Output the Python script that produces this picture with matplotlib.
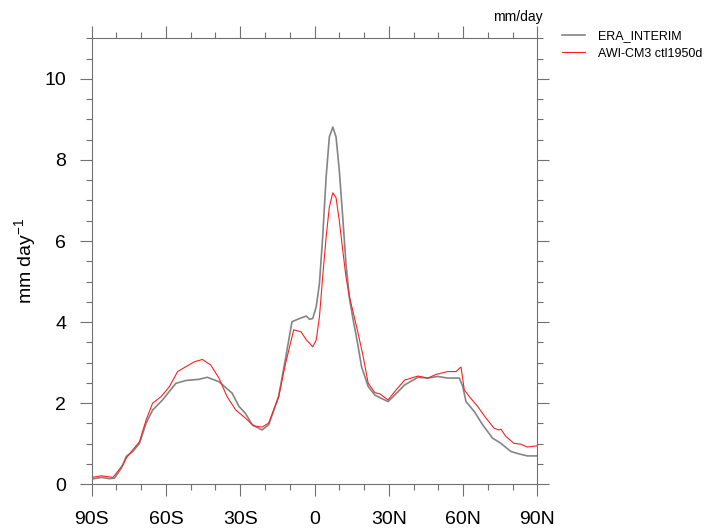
import matplotlib
matplotlib.use("Agg")
import matplotlib.pyplot as plt
from matplotlib.ticker import MultipleLocator

plt.rcParams['font.family'] = ['Liberation Sans', 'DejaVu Sans']

# --- zonal mean precipitation (mm/day) ---
era_lat = [-90, -86, -83, -80.8, -78, -76, -73.4, -70.7, -68, -65.4, -61.4, -56, -52,
           -46.6, -43.3, -38.6, -33.3, -30.5, -27.9, -25.2, -21.2, -18.5, -14.5, -11.8,
           -9.1, -6.4, -3.3, -2.0, -0.7, 0.7, 2.0, 3.3, 4.7, 6.0, 7.4, 8.7, 10.0, 11.4,
           12.7, 14.1, 15.4, 17.4, 19.0, 21.7, 24.4, 27.0, 29.7, 32.4, 36.4, 41.8, 45.8,
           49.8, 53.8, 58.5, 59.9, 61.2, 64.6, 67.9, 71.9, 75.3, 79.3, 82.6, 86.0, 90]
era_val = [0.13, 0.17, 0.14, 0.15, 0.40, 0.69, 0.81, 1.01, 1.51, 1.83, 2.08, 2.49, 2.56,
           2.59, 2.64, 2.53, 2.25, 1.92, 1.75, 1.47, 1.34, 1.47, 2.16, 3.07,
           4.01, 4.08, 4.15, 4.07, 4.09, 4.38, 4.95, 6.10, 7.58, 8.57, 8.81, 8.57, 7.75, 6.60,
           5.45, 4.60, 4.13, 3.48, 2.90, 2.41, 2.20, 2.12, 2.04, 2.20, 2.45, 2.64, 2.62,
           2.66, 2.62, 2.62, 2.41, 2.04, 1.79, 1.47, 1.14, 1.01, 0.81, 0.75, 0.70, 0.70]

awi_lat = [-90, -86, -81.4, -77.4, -76, -73.4, -70.7, -68, -65.4, -62, -58.6, -55.3, -52,
           -48.6, -45.3, -41.9, -38.6, -35.3, -31.9, -27.9, -24.5, -21.2, -18.5, -14.5,
           -11.8, -8.4, -5.4, -3.3, -2.0, -0.7, 0.7, 2.0, 3.3, 4.7, 6.0, 7.4, 8.7, 10.0,
           11.4, 12.7, 14.1, 15.4, 17.4, 19.5, 21.7, 24.4, 26.4, 29.7, 33.0, 36.4, 41.8,
           45.8, 49.1, 53.8, 57.2, 58.5, 59.2, 60.5, 62.6, 65.9, 69.3, 72.6, 74.6, 75.3,
           77.3, 80.6, 83.3, 86.0, 90]
awi_val = [0.17, 0.21, 0.17, 0.48, 0.65, 0.85, 1.05, 1.59, 2.00, 2.16, 2.41, 2.78, 2.90,
           3.02, 3.08, 2.94, 2.62, 2.16, 1.84, 1.63, 1.44, 1.41, 1.51, 2.16,
           2.95, 3.81, 3.76, 3.56, 3.48, 3.39, 3.56, 4.13, 5.12, 6.10, 6.84, 7.19, 7.07, 6.51,
           5.78, 5.12, 4.63, 4.30, 3.78, 3.20, 2.49, 2.26, 2.23, 2.08, 2.33, 2.57, 2.67,
           2.62, 2.71, 2.78, 2.78, 2.86, 2.89, 2.33, 2.16, 1.92, 1.63, 1.38, 1.34, 1.36,
           1.18, 1.01, 0.99, 0.92, 0.95]

xticks = [-90, -60, -30, 0, 30, 60, 90]
xlabels = ["90S", "60S", "30S", "0", "30N", "60N", "90N"]
yticks = [0, 2, 4, 6, 8, 10]

fig = plt.figure(figsize=(7.12, 5.30), dpi=100)
ax = fig.add_axes([91.7 / 712, 1 - 484.3 / 530, (537.3 - 91.7) / 712, (484.3 - 38.3) / 530])

ax.plot(era_lat, era_val, color='#858585', lw=1.2, label='ERA_INTERIM')
ax.plot(awi_lat, awi_val, color='#ff2020', lw=0.8, label='AWI-CM3 ctl1950d')

ax.set_xlim(-90, 90)
ax.set_ylim(0, 11)
ax.set_xticks(xticks)
ax.set_xticklabels(xlabels)
ax.set_yticks(yticks)
ax.xaxis.set_minor_locator(MultipleLocator(10))
ax.yaxis.set_minor_locator(MultipleLocator(0.5))

spine_col = '#707070'
for s in ax.spines.values():
    s.set_color(spine_col)
    s.set_linewidth(0.8)
ax.tick_params(which='both', direction='out', top=True, right=True,
               color=spine_col, width=0.8, labelsize=14)
ax.tick_params(which='major', length=8.5)
ax.tick_params(which='minor', length=4.3)
ax.tick_params(axis='x', which='major', pad=11)
ax.tick_params(axis='y', which='major', pad=10)

ax.set_ylabel('mm day$^{\\mathregular{-1}}$', fontsize=14, labelpad=4)

fig.text(543 / 712, 1 - 17 / 530, 'mm/day', ha='right', va='center', fontsize=10)

ax.legend(loc='upper left', bbox_to_anchor=(562 / 712, 1 - 30 / 530),
          bbox_transform=fig.transFigure, frameon=False, fontsize=9,
          handlelength=1.85, handletextpad=1.0, labelspacing=0.45,
          borderpad=0, borderaxespad=0)

fig.savefig('out.png', dpi=100)
